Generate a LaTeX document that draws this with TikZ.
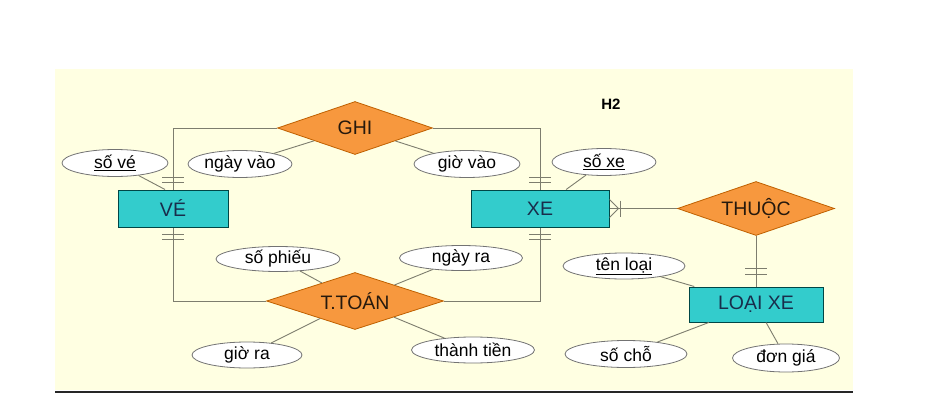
\documentclass[tikz,border=0pt]{standalone}
\usepackage{fontspec}
\setmainfont{Liberation Sans}
\usetikzlibrary{shapes.geometric, calc}
\definecolor{erCyan}{RGB}{51, 204, 204}
\definecolor{erOrange}{RGB}{247, 152, 62}
\definecolor{erYellow}{RGB}{255, 255, 226}
\definecolor{erLine}{RGB}{125, 125, 110}
\definecolor{erText}{RGB}{25, 45, 75}

\begin{document}
\begin{tikzpicture}[x=1pt, y=-1pt,
      every node/.style={font=\fontsize{17.5}{20}\selectfont},
      entity/.style={draw=teal!55!black, line width=1pt, fill=erCyan,
                     inner sep=0pt, text=erText, font=\fontsize{19.5}{22}\selectfont},
      relation/.style={diamond, draw=orange!75!black, line width=0.8pt, fill=erOrange,
                       inner sep=0pt, aspect=3, text=black!80!brown,
                       font=\fontsize{19.5}{22}\selectfont},
      attr/.style={ellipse, draw=black!55, line width=0.8pt, fill=white,
                   inner sep=0pt, minimum width=106pt, minimum height=27pt},
      link/.style={draw=erLine, line width=0.9pt},
      tick/.style={draw=erLine, line width=0.9pt}]
    % page and background
    \useasboundingbox (0,0) rectangle (940,396);
    \fill[white] (0,0) rectangle (940,396);
    \fill[erYellow] (55,69) rectangle (853,390);
    \draw[black!85, line width=1.5pt] (55,392) -- (853,392);
    \node[font=\bfseries\fontsize{15}{17}\selectfont] (title) at (611,104) {H2};
    % entities
    \node[entity, minimum width=110pt, minimum height=37pt] (ve)     at (173,208.5) {VÉ};
    \node[entity, minimum width=138pt, minimum height=37pt] (xe)     at (540,208.5) {XE};
    \node[entity, minimum width=134pt, minimum height=35pt] (loaixe) at (756,304.5) {LOẠI XE};
    % relations
    \node[relation, minimum width=155pt, minimum height=53pt] (ghi)   at (355,128) {GHI};
    \node[relation, minimum width=177pt, minimum height=57pt] (ttoan) at (355,301) {T.TOÁN};
    \node[relation, minimum width=157pt, minimum height=54pt] (thuoc) at (756,208.5) {THUỘC};
    % attributes
    \node[attr]                      (sove)      at (115,163) {\underline{số vé}};
    \node[attr, minimum width=104pt] (ngayvao)   at (240,164) {ngày vào};
    \node[attr]                      (giovao)    at (467,164) {giờ vào};
    \node[attr, minimum width=104pt] (soxe)      at (604,162) {\underline{số xe}};
    \node[attr, minimum width=124pt, minimum height=25pt] (sophieu)   at (278,259) {số phiếu};
    \node[attr, minimum width=123pt, minimum height=25pt] (ngayra)    at (461,258) {ngày ra};
    \node[attr, minimum width=110pt, minimum height=26pt] (giora)     at (247,355) {giờ ra};
    \node[attr, minimum width=123pt, minimum height=26pt] (thanhtien) at (473,350) {thành tiền};
    \node[attr, minimum width=122pt, minimum height=26pt] (tenloai)   at (624,266) {\underline{tên loại}};
    \node[attr, minimum width=122pt]                      (socho)     at (626,354) {số chỗ};
    \node[attr, minimum width=107pt, minimum height=28pt] (dongia)    at (786,358) {đơn giá};
    % relationships
    \draw[link] (ghi.west)   -| (ve.north);
    \draw[link] (ghi.east)   -| (xe.north);
    \draw[link] (ttoan.west) -| (ve.south);
    \draw[link] (ttoan.east) -| (xe.south);
    \draw[link] (xe.east)    -- (thuoc.west);
    \draw[link] (thuoc.south) -- (loaixe.north);
    % cardinality marks
    \foreach \p/\d in {ve.north/-1, xe.north/-1, ve.south/1, xe.south/1}
      \draw[tick] ($(\p)+(-11,\d*7)$) -- ++(22,0) ($(\p)+(-11,\d*12)$) -- ++(22,0);
    \draw[tick] ($(loaixe.north)+(-11,-12)$) -- ++(22,0) ($(loaixe.north)+(-11,-18)$) -- ++(22,0);
    \draw[tick] ($(xe.east)+(0,-9)$) -- ($(xe.east)+(9,0)$) -- ($(xe.east)+(0,9)$);
    \draw[tick] ($(xe.east)+(11,-8)$) -- ++(0,16);
    % attribute lines
    \draw[link] (sove) -- ([xshift=-8pt]ve.north);
    \foreach \a/\e in {soxe/xe, ngayvao/ghi, giovao/ghi,
                       sophieu/ttoan, ngayra/ttoan, giora/ttoan, thanhtien/ttoan,
                       tenloai/loaixe, socho/loaixe, dongia/loaixe}
      \draw[link] (\a) -- (\e);
  \end{tikzpicture}
\end{document}
